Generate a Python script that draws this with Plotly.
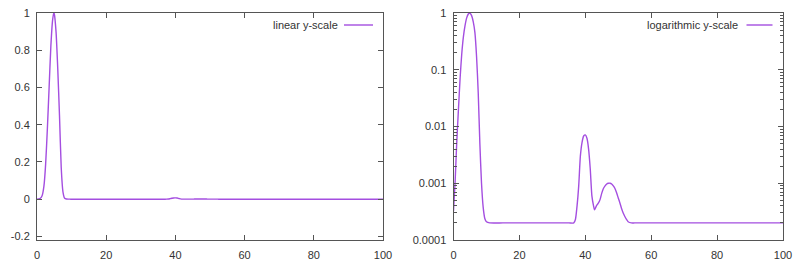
import plotly.graph_objects as go

# ---- data ----
x_vals = [0, 0.5, 1.0, 1.5, 2.0, 2.5, 3.0, 3.5, 4.0, 4.5, 4.85, 5.0, 5.5, 6.0, 6.5, 7.0, 7.5,
          8.0, 8.5, 9.0, 9.5, 10.0, 11, 15, 20, 25, 30, 35, 36.5, 37, 37.5, 38, 38.5, 39,
          39.5, 40, 40.5, 41, 41.5, 42, 42.5, 42.8, 43.2, 43.5, 44, 44.5, 45, 45.5, 46,
          46.5, 47, 47.5, 48, 48.5, 49, 49.5, 50, 50.5, 51, 51.5, 52, 52.5, 53, 54, 55,
          60, 70, 80, 90, 100]
y_vals = [0.00032, 0.0011, 0.0055, 0.02, 0.07, 0.19, 0.38, 0.6, 0.82, 0.96, 1.0, 0.995, 0.9,
          0.7, 0.45, 0.17, 0.04, 0.005, 0.001, 0.00038, 0.00024, 0.00021, 0.0002, 0.0002,
          0.0002, 0.0002, 0.0002, 0.0002, 0.0002, 0.00023, 0.0004, 0.0009, 0.003, 0.0052,
          0.0068, 0.0071, 0.0062, 0.004, 0.0018, 0.0006, 0.0004, 0.00034, 0.00038, 0.00041,
          0.00045, 0.00052, 0.00067, 0.00081, 0.0009, 0.00097, 0.001, 0.001, 0.00097, 0.0009,
          0.00081, 0.00068, 0.00055, 0.00045, 0.00036, 0.0003, 0.00026, 0.00023, 0.00021,
          0.0002, 0.0002, 0.0002, 0.0002, 0.0002, 0.0002, 0.0002]
x_ticks = [0, 20, 40, 60, 80, 100]
lin_ticks = [-0.2, 0, 0.2, 0.4, 0.6, 0.8, 1]
lin_labels = ["-0.2", "0", "0.2", "0.4", "0.6", "0.8", "1"]
log_ticks = [0.0001, 0.001, 0.01, 0.1, 1]
log_labels = ["0.0001", "0.001", "0.01", "0.1", "1"]
log_minor = [m * 10 ** e for e in range(-4, 0) for m in range(2, 10)]
names = ["linear y-scale", "logarithmic y-scale"]

LINE = "#a44ee0"
AXC = "#555555"
TXT = "#333333"
FONT = dict(family="Liberation Sans, Arial, sans-serif", size=11, color=TXT)

fig = go.Figure()
fig.add_trace(go.Scatter(x=x_vals, y=y_vals, mode="lines", name=names[0],
                         line=dict(color=LINE, width=1.4, shape="spline", smoothing=0.6),
                         xaxis="x", yaxis="y", showlegend=False))
fig.add_trace(go.Scatter(x=x_vals, y=y_vals, mode="lines", name=names[1],
                         line=dict(color=LINE, width=1.4, shape="spline", smoothing=0.6),
                         xaxis="x2", yaxis="y2", showlegend=False))

W, H = 800, 266
def px(x): return x / W
def py(y): return 1 - y / H

axis_common = dict(showgrid=False, zeroline=False, showline=True, linecolor=AXC, linewidth=1,
                   mirror="allticks", ticks="inside", ticklen=5, tickcolor=AXC, tickwidth=1,
                   tickfont=FONT, automargin=False)

fig.update_layout(
    width=W, height=H, margin=dict(l=0, r=0, t=0, b=0),
    paper_bgcolor="white", plot_bgcolor="white",
    xaxis=dict(domain=[px(37), px(383)], range=[0, 100], tickvals=x_ticks,
               anchor="y", ticklabelstandoff=5, **axis_common),
    yaxis=dict(domain=[py(240), py(13)], range=[-0.219, 1.0], tickvals=lin_ticks,
               ticktext=lin_labels, anchor="x", ticklabelstandoff=4, **axis_common),
    xaxis2=dict(domain=[px(453.5), px(783)], range=[0, 100], tickvals=x_ticks,
                anchor="y2", ticklabelstandoff=5, **axis_common),
    yaxis2=dict(domain=[py(240), py(13)], type="log", range=[-4, 0], tickvals=log_ticks,
                ticktext=log_labels, anchor="x2", ticklabelstandoff=4,
                minor=dict(ticks="inside", ticklen=3, tickcolor=AXC, tickvals=log_minor),
                **axis_common),
)

# legends (gnuplot style: text then sample line)
legends = [(340, 344, 373, 25), (739.5, 746.5, 772.5, 25)]
for name, (tx, l0, l1, ly) in zip(names, legends):
    fig.add_annotation(x=px(tx), y=py(ly), xref="paper", yref="paper", text=name,
                       showarrow=False, xanchor="right", yanchor="middle", font=FONT)
    fig.add_shape(type="line", xref="paper", yref="paper", x0=px(l0), x1=px(l1),
                  y0=py(ly), y1=py(ly), line=dict(color=LINE, width=1.4))

fig.write_html("out.html")
